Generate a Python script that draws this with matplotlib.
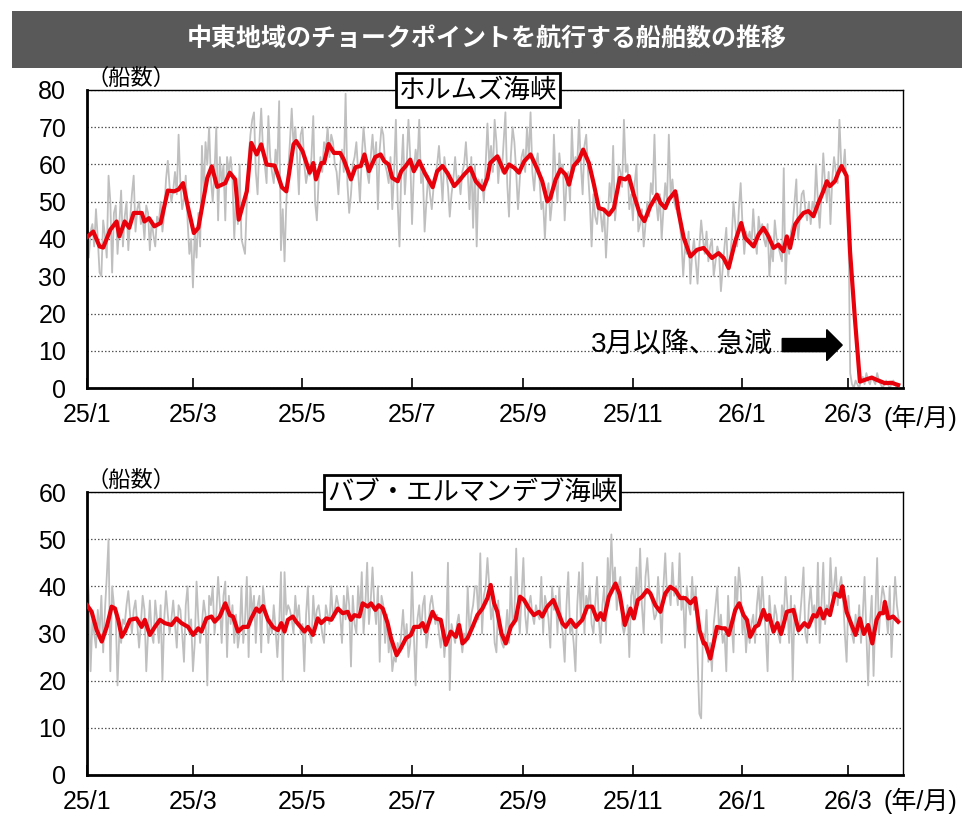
import numpy as np
import pandas as pd
import matplotlib
matplotlib.use("Agg")
import matplotlib.pyplot as plt
from matplotlib.patches import Rectangle, FancyArrow

plt.rcParams['font.family'] = ['Liberation Sans', 'Noto Sans CJK JP', 'DejaVu Sans']

# ---------------- data ----------------
start_date = "2025-01-01"
title = "中東地域のチョークポイントを航行する船舶数の推移"
panel_titles = ["ホルムズ海峡", "バブ・エルマンデブ海峡"]
tick_dates = ["2025-01-01", "2025-03-01", "2025-05-01", "2025-07-01",
              "2025-09-01", "2025-11-01", "2026-01-01", "2026-03-01"]
tick_labels = ["25/1", "25/3", "25/5", "25/7", "25/9", "25/11", "26/1", "26/3"]

# Hormuz daily ship counts (gray)
hormuz_daily = [
    46, 35, 42, 44, 38, 48, 40, 31, 30, 45,
    41, 35, 57, 50, 31, 47, 49, 36, 44, 53,
    38, 46, 50, 37, 45, 52, 57, 42, 48, 50,
    44, 46, 40, 49, 47, 37, 45, 41, 38, 46,
    44, 50, 42, 47, 56, 61, 54, 50, 53, 58,
    52, 68, 55, 48, 51, 57, 45, 36, 40, 27,
    42, 35, 47, 38, 65, 52, 66, 60, 70, 56,
    50, 58, 70, 45, 62, 55, 60, 45, 62, 58,
    62, 56, 40, 52, 44, 60, 40, 38, 36, 50,
    62, 68, 72, 74, 58, 52, 66, 75, 64, 60,
    55, 73, 62, 58, 55, 64, 60, 77, 37, 48,
    34, 50, 58, 66, 75, 65, 70, 62, 52, 68,
    70, 60, 55, 58, 57, 62, 73, 50, 45, 56,
    62, 58, 66, 64, 70, 62, 68, 66, 60, 58,
    52, 60, 64, 58, 79, 55, 47, 52, 60, 62,
    66, 58, 50, 62, 70, 64, 58, 55, 62, 68,
    60, 66, 48, 64, 70, 68, 60, 58, 55, 62,
    48, 58, 72, 50, 38, 58, 68, 52, 60, 72,
    62, 44, 58, 64, 60, 72, 55, 58, 42, 50,
    57, 52, 48, 54, 57, 60, 65, 58, 50, 62,
    58, 54, 46, 52, 56, 62, 55, 57, 52, 58,
    60, 66, 58, 48, 62, 43, 60, 38, 56, 54,
    56, 50, 60, 71, 60, 65, 58, 72, 66, 55,
    62, 58, 66, 74, 55, 46, 62, 70, 66, 58,
    48, 56, 62, 64, 58, 70, 62, 74, 58, 53,
    60, 63, 56, 48, 50, 40, 52, 55, 45, 50,
    68, 56, 50, 63, 58, 60, 45, 55, 58, 50,
    70, 58, 62, 60, 72, 60, 52, 65, 68, 58,
    50, 38, 52, 46, 44, 50, 47, 42, 48, 35,
    45, 55, 50, 65, 45, 50, 60, 58, 54, 72,
    58, 60, 48, 52, 45, 55, 60, 42, 44, 48,
    38, 44, 50, 46, 55, 52, 68, 50, 45, 52,
    40, 48, 55, 50, 68, 52, 56, 50, 48, 52,
    44, 40, 30, 38, 36, 42, 28, 36, 40, 34,
    28, 38, 45, 40, 36, 42, 34, 38, 40, 30,
    34, 38, 36, 26, 32, 38, 43, 30, 34, 40,
    50, 44, 38, 48, 55, 44, 36, 42, 40, 42,
    38, 48, 40, 36, 46, 42, 44, 40, 38, 44,
    30, 38, 34, 45, 40, 38, 36, 34, 59, 28,
    40, 36, 42, 44, 50, 56, 40, 46, 52, 53,
    48, 45, 50, 44, 50, 48, 60, 50, 43, 52,
    63, 55, 50, 58, 44, 56, 62, 58, 55, 72,
    60, 58, 64, 53, 45, 4, 1, 0, 2, 1,
    0, 2, 3, 1, 4, 2, 1, 3, 2, 1,
    4, 2, 1, 0, 1, 2, 1, 0, 1, 2,
    1, 0, 1,
]

# Hormuz 7-day average (red): day offset from start, value
hormuz_avg_day = [
    0, 3.5, 7, 9, 13, 16.5, 18, 21, 23.5, 26, 30.5, 32, 34.5, 37.5, 41, 45, 48.5, 51,
    53.5, 56, 59.5, 62, 67, 69.5, 72.5, 77, 79.5, 82.5, 84.5, 89, 91.5, 94.5, 97, 100,
    104.5, 108.5, 111, 115, 116.5, 120, 124, 126, 127.5, 130.5, 132, 134.5, 137.5, 141,
    143, 147, 149.5, 152.5, 154.5, 157, 160.5, 163.5, 165.5, 168, 170, 173, 175, 177.5,
    180, 182, 185, 188, 192.5, 195, 198, 201, 204.5, 207, 210, 213.5, 216.5, 220.5, 223,
    224.5, 228.5, 232.5, 235, 238, 240.5, 243.5, 247, 250.8, 253.5, 256.3, 258, 261,
    263.7, 266.5, 268.4, 271, 274, 276.3, 279.5, 282.3, 285, 287.8, 290.6, 293.4, 296.7,
    299.8, 301.7, 304.5, 308, 310.4, 313.7, 317.4, 319.3, 322, 324, 327.6, 329.5, 332.3,
    336, 339.7, 343.4, 348, 351.7, 354.5, 357.3, 361, 364.3, 366.5, 371.2, 374, 376.7,
    379.5, 382.3, 385, 387.8, 389.7, 391.5, 394.3, 396.2, 399, 401.7, 404.5, 407.3, 410,
    412, 413.7, 416.5, 418.4, 420.2, 423, 424.9, 427.6, 430.4, 433.2, 437, 439.7, 444.3,
    448, 451.7,
]
hormuz_avg = [
    40.5, 42, 38, 37.7, 42.5, 44.7, 40.7, 44.7, 43, 47, 47, 44.7, 45.6, 43.4, 44.3, 53, 52.8, 53.3,
    55, 49, 41.6, 43, 56.4, 59.5, 54, 55, 57.8, 56, 45.2, 52.8, 65.8, 62.7, 65.4, 60,
    59.7, 53.9, 52.8, 65.4, 66.3, 63.6, 57.8, 60.4, 56, 60.4, 60.4, 65.5, 63.1, 63.1,
    61.3, 56, 59.3, 59.6, 62.7, 58.2, 62, 62.7, 60.9, 60, 56.4, 55.5, 58.2, 59.6,
    61.3, 58.2, 60.9, 57.8, 53.9, 58.2, 59.6, 57.5, 54.2, 55.5, 57.3, 59.1, 55.5, 53.3, 56.4,
    60.4, 62.2, 57.8, 60, 59.1, 57.8, 60.9, 62.7, 58.7, 55.5, 50.1, 51, 56,
    58.7, 57.3, 54.6, 59.6, 61.3, 64, 60.4, 54.6, 48.3, 47.9, 46.5, 48.3, 56.4,
    56, 56.9, 51.9, 46.5, 44.8, 48.8, 51.9, 49.7, 48.3, 50.6, 52.8, 47, 40.3,
    35.3, 37.1, 37.6, 34.9, 36.2, 34.9, 32.2, 39.4, 44.3, 40.3, 38, 41.2, 43,
    40.7, 37.6, 38.5, 36.7, 40.7, 37.6, 43.9, 45.3, 47, 47.5, 46.1, 49.7, 52.8,
    55.5, 54.2, 55.5, 57.8, 59.6, 56.9, 36.7, 18.7, 1.7, 2.2, 2.8, 2.2, 1.3,
    1.4, 0.8,
]

# Bab el-Mandeb daily ship counts (gray)
bab_daily = [
    45, 38, 22, 33, 30, 27, 35, 30, 38, 26,
    35, 42, 50, 22, 40, 36, 34, 19, 30, 28,
    33, 32, 36, 39, 34, 30, 35, 37, 32, 27,
    32, 38, 35, 22, 30, 37, 30, 28, 37, 33,
    28, 36, 20, 33, 39, 34, 30, 33, 37, 32,
    27, 36, 35, 30, 24, 36, 40, 30, 33, 22,
    28, 41, 33, 28, 32, 37, 34, 19, 38, 36,
    40, 30, 34, 42, 36, 28, 38, 41, 25, 38,
    32, 36, 28, 34, 27, 30, 40, 28, 33, 42,
    25, 40, 34, 38, 28, 36, 38, 26, 40, 36,
    34, 28, 33, 30, 36, 31, 25, 32, 43, 20,
    43, 34, 36, 35, 33, 30, 38, 33, 36, 30,
    32, 22, 34, 40, 30, 28, 38, 32, 35, 36,
    33, 30, 28, 36, 34, 32, 40, 33, 35, 38,
    36, 34, 28, 38, 33, 40, 36, 23, 38, 32,
    30, 40, 34, 43, 30, 36, 45, 32, 37, 44,
    36, 32, 40, 24, 38, 36, 28, 34, 26, 30,
    22, 25, 24, 28, 26, 30, 35, 28, 32, 25,
    28, 43, 30, 19, 33, 36, 30, 36, 38, 27,
    30, 36, 38, 35, 32, 34, 30, 27, 32, 25,
    30, 45, 18, 32, 30, 28, 32, 34, 30, 26,
    30, 28, 40, 30, 34, 36, 40, 40, 33, 47,
    30, 38, 40, 46, 40, 33, 36, 28, 26, 37,
    30, 28, 27, 30, 35, 28, 42, 32, 34, 48,
    36, 30, 38, 46, 34, 30, 36, 38, 34, 32,
    36, 34, 33, 42, 30, 38, 36, 33, 27, 40,
    35, 38, 30, 40, 32, 30, 24, 36, 43, 30,
    32, 28, 22, 36, 43, 33, 45, 30, 38, 36,
    40, 32, 30, 36, 42, 33, 28, 36, 40, 30,
    46, 38, 51, 40, 44, 35, 40, 42, 32, 30,
    32, 36, 25, 38, 40, 34, 44, 36, 48, 36,
    30, 42, 46, 40, 38, 36, 33, 34, 42, 36,
    28, 40, 47, 38, 40, 36, 45, 38, 40, 36,
    47, 35, 38, 27, 40, 36, 34, 42, 35, 40,
    25, 13, 12, 30, 28, 35, 24, 28, 22, 32,
    36, 40, 30, 34, 28, 30, 22, 38, 30, 32,
    26, 42, 36, 44, 40, 30, 34, 26, 32, 28,
    32, 34, 28, 36, 40, 33, 42, 35, 30, 22,
    38, 33, 30, 36, 34, 30, 28, 36, 33, 42,
    36, 28, 38, 20, 36, 34, 30, 33, 38, 44,
    30, 28, 36, 40, 34, 36, 30, 45, 28, 36,
    45, 32, 36, 34, 46, 38, 40, 44, 36, 40,
    42, 38, 30, 24, 38, 32, 30, 28, 34, 30,
    36, 28, 34, 42, 30, 19, 32, 38, 21, 34,
    46, 30, 36, 40, 38, 34, 30, 40, 25, 34,
    42, 36, 33,
]

# Bab el-Mandeb 7-day average (red)
bab_avg_day = [
    0, 2.6, 5.4, 8.2, 11, 13.7, 15.6, 17.4, 19.3, 21.1, 23.9, 27.6, 30.4, 32.2, 35, 37.8,
    40.6, 43.3, 47, 49.8, 52.6, 56.3, 59.1, 61.9, 63.7, 66.5, 69.3, 71.1, 73.9, 77, 79.5,
    81.3, 84.1, 86.9, 89.6, 91.5, 94.3, 96.1, 98, 100.8, 103.5, 106.3, 108.2, 110, 111.9,
    114.6, 116.5, 121.1, 123, 125.8, 128.5, 130.4, 133.2, 136, 139.7, 142.4, 145.2, 147,
    148.9, 151.7, 153.5, 156.3, 158.2, 160.6, 162.4, 164.7, 167.4, 169.3, 172.4, 174.8,
    177.6, 180.4, 182.2, 185, 186.9, 188.7, 192.4, 194.3, 197, 199.8, 202.6, 205.4, 207.2,
    209.1, 211.9, 214.7, 217.4, 220.2, 223, 224.8, 226.7, 228.5, 230.8, 233.2, 236,
    238.7, 241.1, 243.4, 246.1, 248.9, 251.7, 253.5, 256.3, 259.7, 261.9, 264.7, 266.5,
    269.3, 272.1, 275.8, 278.6, 281.3, 284.1, 286, 287.8, 290.6, 294.3, 296.7, 299.5,
    302.6, 304.5, 306.7, 309.1, 311.9, 313.7, 316.5, 319.3, 322, 324.8, 327.6, 330.4,
    333.2, 336, 338.7, 341.1, 343.4, 344.3, 347.1, 348.9, 350.8, 353.6, 355.4, 357.3,
    359.1, 361, 363.2, 365.6, 367.5, 369.3, 372.1, 373.9, 376.7, 378.6, 379.9, 382.3,
    384.5, 386.5, 389.7, 393.4, 396.2, 399.5, 401.7, 404.5, 406.3, 408.2, 410, 411.9,
    413.7, 416.5, 419.3, 420.6, 423, 425.8, 428, 430.4, 432.6, 435, 437.3, 439.7, 441.5,
    443.4, 444.3, 446.2, 448.9, 451.7,
]
bab_avg = [
    36, 34.6, 30.7, 28.3, 31.4, 35.7, 35.3, 32.9, 29.3, 30.4, 32.9, 33.2, 31.4, 32.9, 29.7, 31.4,
    32.9, 32.2, 31.8, 33.2, 32.2, 31.4, 29.7, 31.1, 30.4, 33.2, 33.6, 32.5, 33.6, 36.4, 33.9,
    33.6, 30.4, 31.4, 31.4, 33.2, 35.3, 34.6, 35.8, 32.9, 31.4, 30.7, 32.2, 30.4, 32.9,
    33.6, 32.5, 30.4, 31.4, 29.7, 33.2, 32.2, 33.2, 32.9, 35.3, 34.3, 34.6, 32.9,
    33.9, 33.6, 36.4, 35.7, 36.4, 35, 36, 35.3, 32.2, 29, 25.4, 26.9,
    29, 29.7, 31.4, 31.4, 32.2, 30.4, 34.6, 33.2, 32.9, 27.6, 30.4, 29.3, 31.8,
    27.9, 29, 31.4, 33.9, 35.3, 37.5, 40.3, 36.4, 34.6, 30, 27.9, 31.4,
    32.9, 37.8, 37.1, 35.3, 33.9, 34.6, 33.6, 35.7, 37.1, 35, 32.2, 31.4,
    32.9, 31.4, 32.9, 35.7, 35.7, 32.9, 34.3, 32.9, 37.8, 40.6, 38.2, 31.8,
    35.3, 33.2, 37.1, 37.8, 39.2, 38.5, 36, 34.6, 38.5, 39.9, 39.2, 37.5,
    37.5, 36.4, 37.5, 30.7, 27.9, 27.9, 24.7, 27.9, 31.4, 31.1, 31.1, 29.7,
    32.2, 35, 36.4, 33.9, 32.9, 29.3, 31.4, 31.8, 35, 32.9, 33.9, 30.4,
    32.2, 29.9, 34.6, 35, 30.7, 32.2, 31.4, 33.9, 33.6, 35.3, 33.2, 35,
    33.9, 38.5, 37.8, 40, 34.6, 31.8, 29.7, 33.2, 29.9, 31.8, 27.9, 32.9, 34.3,
    34.3, 36.7, 33.2, 33.6, 32.5,
]

note_text = "3月以降、急減"
ylabel_text = "（船数）"
xunit_text = "(年/月)"

# ---------------- figure ----------------
W, H = 975, 817
fig = plt.figure(figsize=(W / 100, H / 100), dpi=100)

# title bar
fig.add_artist(Rectangle((12 / W, (H - 68) / H), 950 / W, 57 / H,
                         transform=fig.transFigure, facecolor='#595959',
                         edgecolor='none', zorder=0))
fig.text(487 / W, (H - 39) / H, title, color='white', fontsize=18,
         fontweight='bold', ha='center', va='center',
         family=['Noto Sans CJK JP', 'DejaVu Sans'])

start = pd.Timestamp(start_date)
x0 = start
x1 = start + pd.Timedelta(days=454.4)

ax_top = fig.add_axes([87 / W, (H - 388) / H, 816 / W, 298 / H])
ax_bot = fig.add_axes([87 / W, (H - 775) / H, 816 / W, 283 / H])

panels = [
    (ax_top, hormuz_daily, hormuz_avg_day, hormuz_avg, 80, panel_titles[0], 0.479),
    (ax_bot, bab_daily, bab_avg_day, bab_avg, 60, panel_titles[1], 0.472),
]

for ax, daily, avg_day, avg, ymax, ptitle, tx in panels:
    d_dates = pd.date_range(start, periods=len(daily), freq='D')
    a_dates = start + pd.to_timedelta(np.array(avg_day), unit='D')
    ax.plot(d_dates, daily, color='#BFBFBF', lw=1.3, zorder=2)
    ax.plot(a_dates, avg, color='#E8000B', lw=3.0, zorder=3,
            solid_joinstyle='round')
    ax.set_xlim(x0, x1)
    ax.set_ylim(0, ymax)
    ax.set_yticks(np.arange(0, ymax + 1, 10))
    ax.yaxis.grid(True, linestyle=(0, (1.2, 1.6)), color='#555555', lw=0.9)
    ax.set_axisbelow(True)
    ax.set_xticks(pd.to_datetime(tick_dates))
    ax.set_xticklabels(tick_labels)
    ax.tick_params(axis='x', direction='in', length=7, width=1.2,
                   labelsize=18, pad=11)
    ax.tick_params(axis='y', length=0, labelsize=18, pad=15)
    for s in ['left', 'bottom']:
        ax.spines[s].set_linewidth(2.0)
    for s in ['top', 'right']:
        ax.spines[s].set_linewidth(1.0)
    ax.text(tx, 1.0, ptitle, transform=ax.transAxes, ha='center',
            va='center', fontsize=19, zorder=10,
            family=['Noto Sans CJK JP', 'DejaVu Sans'],
            bbox=dict(boxstyle='square,pad=0.12', facecolor='white',
                      edgecolor='black', lw=2.0))
    ax.text(0.0, 1.0, ylabel_text, transform=ax.transAxes, ha='left',
            va='bottom', fontsize=16,
            family=['Noto Sans CJK JP', 'DejaVu Sans'])

ax_top.text(0.976, -0.101, xunit_text, transform=ax_top.transAxes,
            ha='left', va='center', fontsize=18,
            family=['Liberation Sans', 'Noto Sans CJK JP'])
ax_bot.text(0.976, -0.09, xunit_text, transform=ax_bot.transAxes,
            ha='left', va='center', fontsize=18,
            family=['Liberation Sans', 'Noto Sans CJK JP'])

# annotation
ax_top.text(0.841, 0.144, note_text, transform=ax_top.transAxes,
            ha='right', va='center', fontsize=20,
            family=['Liberation Sans', 'Noto Sans CJK JP'])
# block arrow, drawn in axes-fraction coordinates (x 782..842 px, y 346 px)
ax_top.add_patch(FancyArrow(0.852, 0.144, 0.0735, 0.0, width=0.044,
                            head_width=0.104, head_length=0.019,
                            length_includes_head=True, color='black',
                            transform=ax_top.transAxes, zorder=6))

fig.savefig('out.png', dpi=100)
